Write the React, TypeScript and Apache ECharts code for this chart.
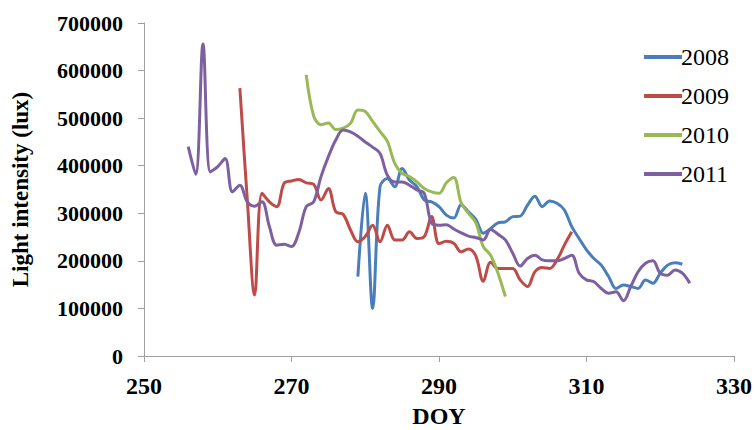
import React, { useEffect, useRef } from "react";
import * as echarts from "echarts";

const xTicks = [250, 270, 290, 310, 330];
const yTicks = [0, 100000, 200000, 300000, 400000, 500000, 600000, 700000];

const days2008 = [279, 280, 281, 282, 283, 284, 285, 286, 287, 288, 289, 290, 291, 292, 293, 294, 295, 296, 297, 298, 299, 300, 301, 302, 303, 304, 305, 306, 307, 308, 309, 310, 311, 312, 313, 314, 315, 316, 317, 318, 319, 320, 321, 322, 323];
const vals2008 = [167000, 342000, 100000, 356000, 373000, 356000, 394000, 370000, 356000, 328000, 324000, 314000, 296000, 290000, 318000, 303000, 287000, 258000, 268000, 280000, 282000, 293000, 294000, 317000, 336000, 314000, 326000, 321000, 307000, 272000, 247000, 223000, 205000, 191000, 167000, 142000, 149000, 146000, 142000, 160000, 153000, 174000, 191000, 196000, 193000];

const days2009 = [263, 264, 265, 266, 267, 268, 269, 270, 271, 272, 273, 274, 275, 276, 277, 278, 279, 280, 281, 282, 283, 284, 285, 286, 287, 288, 289, 290, 291, 292, 293, 294, 295, 296, 297, 298, 299, 300, 301, 302, 303, 304, 305, 306, 307, 308];
const vals2009 = [563000, 330000, 128000, 342000, 324000, 314000, 363000, 368000, 371000, 364000, 361000, 328000, 352000, 303000, 298000, 265000, 240000, 251000, 275000, 240000, 275000, 244000, 244000, 261000, 247000, 251000, 293000, 236000, 241000, 237000, 219000, 225000, 210000, 157000, 197000, 184000, 184000, 184000, 160000, 146000, 177000, 186000, 184000, 202000, 233000, 261000];

const days2010 = [272, 273, 274, 275, 276, 277, 278, 279, 280, 281, 282, 283, 284, 285, 286, 287, 288, 289, 290, 291, 292, 293, 294, 295, 296, 297, 298, 299];
const vals2010 = [591000, 505000, 486000, 490000, 476000, 479000, 489000, 517000, 514000, 493000, 472000, 451000, 405000, 384000, 377000, 366000, 352000, 345000, 342000, 364000, 375000, 322000, 300000, 280000, 230000, 212000, 174000, 125000];

const days2011 = [256, 257, 258, 259, 260, 261, 262, 263, 264, 265, 266, 267, 268, 269, 270, 271, 272, 273, 274, 275, 276, 277, 278, 279, 280, 281, 282, 283, 284, 285, 286, 287, 288, 289, 290, 291, 292, 293, 294, 295, 296, 297, 298, 299, 300, 301, 302, 303, 304, 305, 306, 307, 308, 309, 310, 311, 312, 313, 314, 315, 316, 317, 318, 319, 320, 321, 322, 323, 324];
const vals2011 = [440000, 382000, 656000, 387000, 398000, 415000, 345000, 359000, 324000, 315000, 324000, 272000, 233000, 235000, 230000, 260000, 314000, 324000, 377000, 419000, 454000, 475000, 471000, 462000, 450000, 439000, 426000, 380000, 366000, 366000, 359000, 349000, 342000, 279000, 275000, 276000, 267000, 259000, 252000, 249000, 244000, 266000, 256000, 244000, 216000, 189000, 205000, 212000, 202000, 200000, 200000, 205000, 212000, 174000, 160000, 156000, 142000, 132000, 135000, 116000, 146000, 177000, 195000, 200000, 174000, 170000, 181000, 174000, 153000];

const seriesNames = ["2008", "2009", "2010", "2011"];
const colors = ["#4A7EBB", "#BE4B48", "#98B954", "#7D60A0"];

const zip = (d: number[], v: number[]) => d.map((x, i) => [x, v[i]]);

export default function App() {
  const ref = useRef<HTMLDivElement>(null);
  useEffect(() => {
    if (!ref.current) return;
    const chart = echarts.init(ref.current, null, { renderer: "svg" });
    const font = "Liberation Serif";
    const data = [zip(days2008, vals2008), zip(days2009, vals2009), zip(days2010, vals2010), zip(days2011, vals2011)];
    chart.setOption({
      animation: false,
      backgroundColor: "#ffffff",
      color: colors,
      textStyle: { fontFamily: font },
      grid: { left: 144, right: 21, top: 23, bottom: 74, containLabel: false, outerBoundsMode: "none" },
      legend: {
        orient: "vertical",
        left: 639,
        top: 40,
        itemGap: 15,
        itemWidth: 38,
        itemHeight: 4,
        icon: "rect",
        textStyle: { fontFamily: font, fontSize: 24, color: "#000", padding: [0, 0, 0, -6] },
        data: seriesNames,
      },
      xAxis: {
        type: "value",
        min: xTicks[0],
        max: xTicks[xTicks.length - 1],
        interval: 20,
        name: "DOY",
        nameLocation: "middle",
        nameGap: 48,
        nameTextStyle: { fontFamily: font, fontSize: 24, fontWeight: "bold", color: "#000", lineHeight: 24 },
        axisLine: { lineStyle: { color: "#A0A0A0", width: 1 } },
        axisTick: { show: true, length: 6, lineStyle: { color: "#A0A0A0" } },
        axisLabel: { fontFamily: font, fontSize: 24, fontWeight: "bold", color: "#000", margin: 18 },
        splitLine: { show: false },
      },
      yAxis: {
        type: "value",
        min: yTicks[0],
        max: yTicks[yTicks.length - 1],
        interval: 100000,
        name: "Light intensity (lux)",
        nameLocation: "middle",
        nameGap: 112,
        nameTextStyle: { fontFamily: font, fontSize: 23, fontWeight: "bold", color: "#000" },
        axisLine: { show: true, lineStyle: { color: "#A0A0A0", width: 1 } },
        axisTick: { show: true, length: 6, lineStyle: { color: "#A0A0A0" } },
        axisLabel: {
          fontFamily: font,
          fontSize: 22,
          fontWeight: "bold",
          color: "#000",
          margin: 21,
          formatter: (v: number) => String(v),
        },
        splitLine: { show: false },
      },
      series: seriesNames.map((name, i) => ({
        name,
        type: "line",
        data: data[i],
        smooth: 0.35,
        showSymbol: false,
        symbol: "none",
        lineStyle: { width: 3, color: colors[i] },
        itemStyle: { color: colors[i] },
      })),
    });
    return () => chart.dispose();
  }, []);
  return <div ref={ref} style={{ width: 755, height: 430, position: "absolute", left: 0, top: 0 }} />;
}
